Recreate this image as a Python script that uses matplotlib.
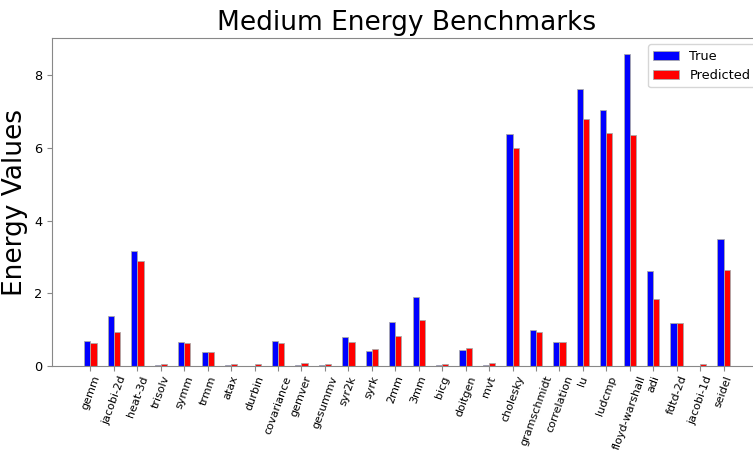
import matplotlib
matplotlib.use("Agg")
import matplotlib.pyplot as plt
import numpy as np

categories = ["gemm", "jacobi-2d", "heat-3d", "trisolv", "symm", "trmm", "atax",
              "durbin", "covariance", "gemver", "gesummv", "syr2k", "syrk", "2mm",
              "3mm", "bicg", "doitgen", "mvt", "cholesky", "gramschmidt",
              "correlation", "lu", "ludcmp", "floyd-warshall", "adi", "fdtd-2d",
              "jacobi-1d", "seidel"]
true_vals = [0.68, 1.38, 3.16, 0.02, 0.66, 0.39, 0.02, 0.01, 0.68, 0.03, 0.02,
             0.81, 0.42, 1.22, 1.89, 0.02, 0.43, 0.035, 6.39, 0.98, 0.66, 7.63,
             7.05, 8.59, 2.60, 1.18, 0.01, 3.49]
pred_vals = [0.64, 0.94, 2.89, 0.05, 0.62, 0.39, 0.055, 0.05, 0.62, 0.08, 0.05,
             0.65, 0.46, 0.82, 1.26, 0.06, 0.49, 0.08, 5.99, 0.93, 0.65, 6.79,
             6.40, 6.35, 1.85, 1.18, 0.05, 2.64]

fig = plt.figure(figsize=(7.53, 4.5), dpi=100)
ax = fig.add_axes([52/753, 1-366/450, 710/753, 328/450])

x = np.arange(len(categories))
w = 0.265
ax.bar(x - w/2, true_vals, w, color="blue", edgecolor="#aaaaaa", linewidth=0.6, label="True")
ax.bar(x + w/2, pred_vals, w, color="red", edgecolor="#aaaaaa", linewidth=0.6, label="Predicted")

ax.set_xticks(x)
ax.set_xticklabels(categories, rotation=70, fontsize=8.0)
ax.tick_params(axis="x", pad=2.5)
ax.tick_params(axis="y", labelsize=9.3)
ax.set_yticks([0, 2, 4, 6, 8])
for s in ax.spines.values():
    s.set_color("#888888")
ax.tick_params(colors="#888888", labelcolor="black")

ax.set_title("Medium Energy Benchmarks", fontsize=19)
ax.set_ylabel("Energy Values", fontsize=19)
ax.legend(loc="upper right", fontsize=9.3)

fig.savefig("out.png", dpi=100)
